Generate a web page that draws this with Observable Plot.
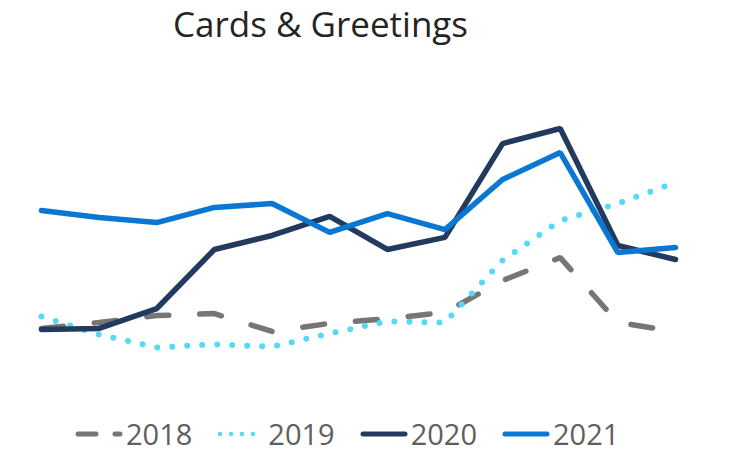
<!DOCTYPE html>
<html>
<head>
<meta charset="utf-8">
<script src="https://cdn.jsdelivr.net/npm/d3@7"></script>
<script src="https://cdn.jsdelivr.net/npm/@observablehq/plot@0.6"></script>
<style>
  body { margin: 0; background: #fff; }
  #wrap { position: relative; width: 750px; height: 453px; font-family: "Open Sans", sans-serif; }
  #title { position: absolute; left: 0; top: 0px; width: 641px; text-align: center; font-size: 35px; color: #252423; }
  #chart { position: absolute; left: 0; top: 0; }
  #legend { position: absolute; left: 75px; top: 414px; display: flex; align-items: center; color: #605E5C; font-size: 29px; }
  .item { display: flex; align-items: center; margin-right: 25px; }
  .item svg { margin-right: 3px; }
</style>
</head>
<body>
<div id="wrap">
  <div id="chart"></div>
  <div id="title">Cards &amp; Greetings</div>
  <div id="legend"></div>
</div>
<script>
const months = [1,2,3,4,5,6,7,8,9,10,11,12];
const years = ["2018","2019","2020","2021"];
const v2018 = [18.6, 20.7, 23.2, 23.9, 17.5, 20.4, 22.1, 24.3, 35.7, 43.9, 20.7, 17.5];
const v2019 = [22.9, 16.4, 11.8, 12.9, 12.1, 16.8, 21.1, 20.7, 42.9, 57.1, 63.2, 70.7];
const v2020 = [18.2, 18.6, 25.7, 46.8, 51.8, 58.6, 46.8, 51.1, 84.6, 90.0, 48.2, 43.2];
const v2021 = [60.7, 58.2, 56.4, 61.8, 63.2, 52.9, 59.6, 53.9, 71.8, 81.4, 45.7, 47.5];

const colors = {"2018": "#767676", "2019": "#55D9F6", "2020": "#223A5E", "2021": "#0A78D2"};
const styles = {
  "2018": {strokeWidth: 5.5, strokeDasharray: "22,31", strokeLinecap: "round"},
  "2019": {strokeWidth: 6, strokeDasharray: "0,15", strokeLinecap: "round"},
  "2020": {strokeWidth: 5.5, strokeLinecap: "round"},
  "2021": {strokeWidth: 5.5, strokeLinecap: "round"}
};
const series = {"2018": v2018, "2019": v2019, "2020": v2020, "2021": v2021};
const toRows = (y) => months.map((m, i) => ({month: m, value: series[y][i], year: y}));

const chart = Plot.plot({
  width: 750,
  height: 400,
  marginLeft: 41,
  marginRight: 75,
  marginTop: 100,
  marginBottom: 20,
  x: {domain: [1, 12], axis: null},
  y: {domain: [0, 100], axis: null},
  marks: years.map(y => Plot.line(toRows(y), {
    x: "month", y: "value", stroke: colors[y], strokeLinejoin: "miter", ...styles[y]
  }))
});
document.getElementById("chart").appendChild(chart);

const legend = document.getElementById("legend");
years.forEach(y => {
  const item = document.createElement("div");
  item.className = "item";
  const dash = y === "2018" ? "18,19" : (y === "2019" ? "0,11" : "none");
  const sw = y === "2019" ? 4.5 : 5;
  item.innerHTML = `<svg width="48" height="12"><line x1="3" x2="45" y1="6" y2="6" stroke="${colors[y]}" stroke-width="${sw}" stroke-linecap="round" stroke-dasharray="${dash}"/></svg><span>${y}</span>`;
  legend.appendChild(item);
});
</script>
</body>
</html>
